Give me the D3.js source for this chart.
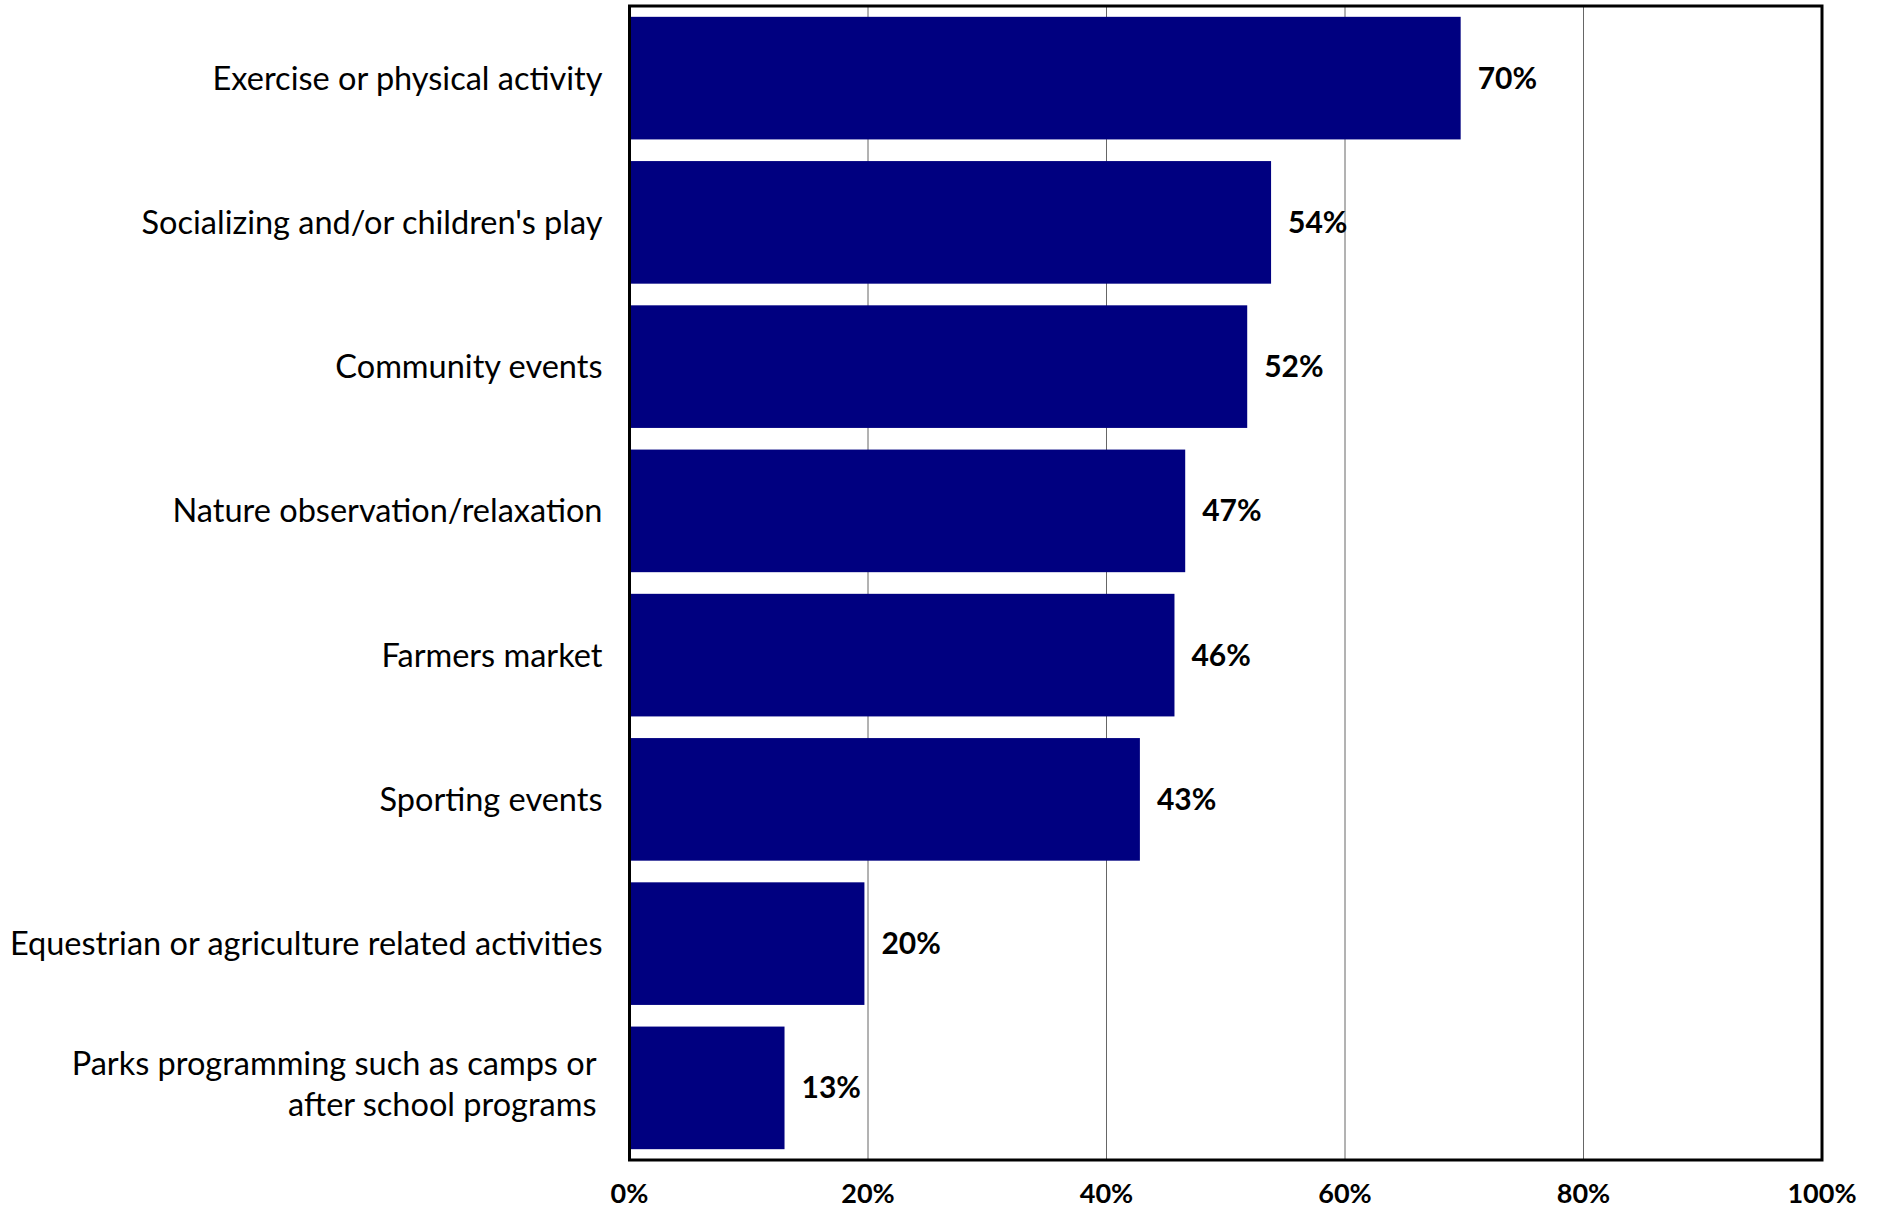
<!DOCTYPE html>
<html>
<head>
<meta charset="utf-8">
<script src="https://cdn.jsdelivr.net/npm/d3@7"></script>
<style>
  html, body { margin: 0; padding: 0; background: #fff; }
  svg { display: block; }
</style>
</head>
<body>
<script>
// activities, top to bottom
const categories = [
  "Exercise or physical activity",
  "Socializing and/or children's play",
  "Community events",
  "Nature observation/relaxation",
  "Farmers market",
  "Sporting events",
  "Equestrian or agriculture related activities",
  "Parks programming such as camps or|after school programs"
];
// share of respondents, % (bar lengths)
const values = [69.7, 53.8, 51.8, 46.6, 45.7, 42.8, 19.7, 13.0];
const xTicks = [0, 20, 40, 60, 80, 100];

const W = 1881, H = 1212;
const margin = { left: 629.5, right: 59, top: 6, bottom: 52 };
const font = "Lato, 'Open Sans', sans-serif";

const svg = d3.select("body").append("svg")
  .attr("width", W)
  .attr("height", H);

const x = d3.scaleLinear().domain([0, 100]).range([margin.left, W - margin.right]);
const y = d3.scaleBand()
  .domain(d3.range(categories.length))
  .range([margin.top, H - margin.bottom])
  .paddingInner(0.15)
  .paddingOuter(0.075);

// vertical gridlines
svg.append("g")
  .selectAll("line")
  .data(xTicks.slice(1, -1))
  .join("line")
  .attr("x1", d => x(d)).attr("x2", d => x(d))
  .attr("y1", margin.top).attr("y2", H - margin.bottom)
  .attr("stroke", "#666")
  .attr("stroke-width", 1);

// bars
svg.append("g")
  .selectAll("rect")
  .data(values)
  .join("rect")
  .attr("x", x(0))
  .attr("y", (d, i) => y(i))
  .attr("width", d => x(d) - x(0))
  .attr("height", y.bandwidth())
  .attr("fill", "#000080");

// value labels
svg.append("g")
  .selectAll("text")
  .data(values)
  .join("text")
  .attr("x", d => x(d) + 17)
  .attr("y", (d, i) => y(i) + y.bandwidth() / 2)
  .attr("dy", "0.35em")
  .attr("font-family", font)
  .attr("font-weight", "bold")
  .attr("font-size", 30)
  .attr("fill", "#000")
  .text(d => Math.round(d) + "%");

// plot frame
svg.append("rect")
  .attr("x", x(0))
  .attr("y", margin.top)
  .attr("width", x(100) - x(0))
  .attr("height", H - margin.bottom - margin.top)
  .attr("fill", "none")
  .attr("stroke", "#000")
  .attr("stroke-width", 3);

// category labels (| splits lines)
const cat = svg.append("g")
  .selectAll("text")
  .data(categories)
  .join("text")
  .attr("text-anchor", "end")
  .attr("font-family", font)
  .attr("font-size", 32.5)
  .attr("fill", "#000")
  .attr("transform", (d, i) => `translate(${x(0) - 27},${y(i) + y.bandwidth() / 2})`);

cat.each(function (d) {
  const lines = d.split("|");
  const lh = 41;
  d3.select(this).selectAll("tspan")
    .data(lines)
    .join("tspan")
    .attr("x", lines.length > 1 ? -6 : 0)
    .attr("y", (t, j) => (j - (lines.length - 1) / 2) * lh - (lines.length > 1 ? 4 : 0))
    .attr("dy", "0.35em")
    .text(t => t);
});

// x tick labels
svg.append("g")
  .selectAll("text")
  .data(xTicks)
  .join("text")
  .attr("x", d => x(d))
  .attr("y", H - margin.bottom + 34)
  .attr("dy", "0.35em")
  .attr("text-anchor", "middle")
  .attr("font-family", font)
  .attr("font-weight", "bold")
  .attr("font-size", 27)
  .attr("fill", "#000")
  .text(d => d + "%");
</script>
</body>
</html>
